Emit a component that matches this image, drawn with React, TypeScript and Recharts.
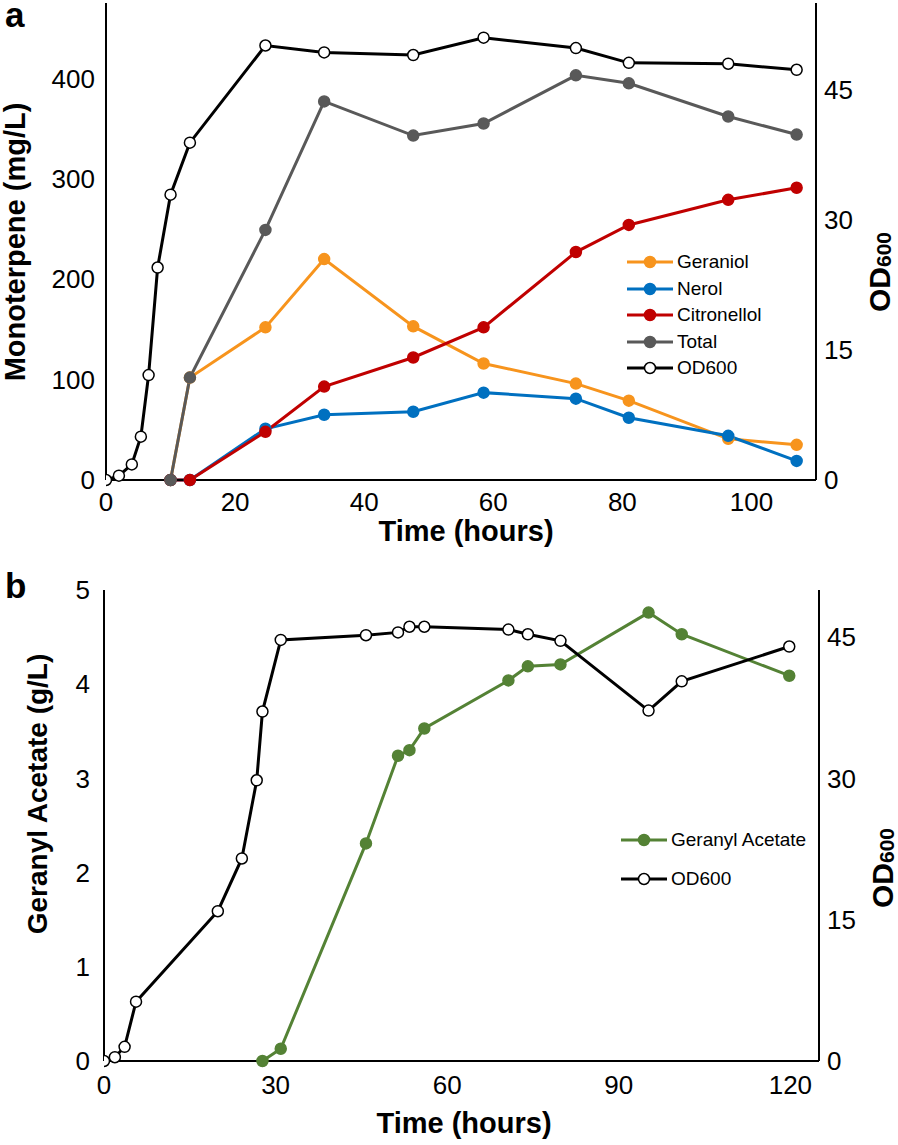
import React from 'react'
import { LineChart, Line, XAxis, YAxis, Legend } from 'recharts'

const FONT = '"Liberation Sans", Arial, sans-serif'

// panel a: monoterpene production
const odTimeA = [0, 2, 4, 5.4, 6.6, 8, 10, 13, 24.7, 33.8, 47.6, 58.5, 72.8, 81, 96.4, 107]
const odA = [0, 0.5, 1.8, 5, 12.1, 24.5, 32.9, 38.9, 50.1, 49.3, 49.0, 51.0, 49.8, 48.1, 48.0, 47.3]
const sampleTimeA = [10, 13, 24.7, 33.8, 47.6, 58.5, 72.8, 81, 96.4, 107]
const geraniol = [0, 102, 152, 220, 153, 116, 96, 79, 41, 35]
const nerol = [0, 0, 51, 65, 68, 87, 81, 62, 44, 19]
const citronellol = [0, 0, 48, 93, 122, 152, 227, 254, 279, 291]
const total = [0, 102, 249, 377, 343, 355, 403, 395, 362, 344]

// panel b: geranyl acetate production
const odTimeB = [0, 1.9, 3.6, 5.6, 19.9, 24.1, 26.7, 27.7, 30.9, 45.8, 51.4, 53.4, 56, 70.7, 74.1, 79.8, 95.2, 101, 119.8]
const odB = [0, 0.4, 1.5, 6.3, 15.9, 21.5, 29.8, 37.1, 44.7, 45.2, 45.5, 46.1, 46.1, 45.8, 45.3, 44.6, 37.2, 40.3, 44.0]
const gaTime = [27.7, 30.9, 45.8, 51.4, 53.4, 56, 70.7, 74.1, 79.8, 95.2, 101, 119.8]
const geranylAcetate = [0, 0.13, 2.31, 3.24, 3.3, 3.53, 4.04, 4.19, 4.21, 4.76, 4.53, 4.09]

const xTicksA = [0, 20, 40, 60, 80, 100]
const yTicksA = [0, 100, 200, 300, 400]
const xTicksB = [0, 30, 60, 90, 120]
const yTicksB = [0, 1, 2, 3, 4, 5]
const odTicks = [0, 15, 30, 45]

const toRows = (xs: number[], ys: number[]) => xs.map((t, i) => ({ t, v: ys[i] }))

const seriesA = [
  { name: 'Geraniol', color: '#F7941D', fill: '#F7941D', rows: toRows(sampleTimeA, geraniol), axis: 'm' },
  { name: 'Nerol', color: '#0070C0', fill: '#0070C0', rows: toRows(sampleTimeA, nerol), axis: 'm' },
  { name: 'Citronellol', color: '#C00000', fill: '#C00000', rows: toRows(sampleTimeA, citronellol), axis: 'm' },
  { name: 'Total', color: '#595959', fill: '#595959', rows: toRows(sampleTimeA, total), axis: 'm' },
  { name: 'OD600', color: '#000000', fill: '#FFFFFF', rows: toRows(odTimeA, odA), axis: 'od' },
]

const seriesB = [
  { name: 'Geranyl Acetate', color: '#548235', fill: '#548235', rows: toRows(gaTime, geranylAcetate), axis: 'm' },
  { name: 'OD600', color: '#000000', fill: '#FFFFFF', rows: toRows(odTimeB, odB), axis: 'od' },
]

const axisLine = { stroke: '#000', strokeWidth: 2 }
const bold = { fontFamily: FONT, fontWeight: 700, fill: '#000' }

// tick text drawn by hand so the size is not overridden
const Tick = (props: any) => {
  const { x, y, payload, textAnchor, verticalAnchor } = props
  const dy = verticalAnchor === 'start' ? '0.71em' : verticalAnchor === 'end' ? '0' : '0.355em'
  return (
    <text x={x} y={y} dy={dy} textAnchor={textAnchor} fontSize={26} fontFamily={FONT} fill="#000">
      {payload.value}
    </text>
  )
}

const LegendBox = ({ items, rowHeight }: { items: typeof seriesA; rowHeight: number }) => (
  <div style={{ fontFamily: FONT, fontSize: 19, color: '#000' }}>
    {items.map((it) => (
      <div key={it.name} style={{ display: 'flex', alignItems: 'center', height: rowHeight, whiteSpace: 'nowrap' }}>
        <svg width={46} height={14}>
          <line x1={0} y1={7} x2={46} y2={7} stroke={it.color} strokeWidth={3} />
          <circle cx={23} cy={7} r={5.5} fill={it.fill} stroke={it.color} strokeWidth={1.5} />
        </svg>
        <span style={{ marginLeft: 4 }}>{it.name}</span>
      </div>
    ))}
  </div>
)

const LeftTitle = ({ text, px, py, size, letter, ly }: any) => (
  <g>
    <text x={px} y={py} transform={`rotate(-90 ${px} ${py})`} textAnchor="middle" fontSize={size} {...bold}>{text}</text>
    <text x={5} y={ly} fontSize={35} {...bold}>{letter}</text>
  </g>
)

const OdTitle = ({ px, py }: any) => (
  <text x={px} y={py} transform={`rotate(-90 ${px} ${py})`} {...bold} fontSize={30}>
    OD<tspan fontSize={21} dy={1}>600</tspan>
  </text>
)

const BottomTitle = ({ px, py }: any) => (
  <text x={px} y={py} textAnchor="middle" fontSize={29} {...bold}>Time (hours)</text>
)

const renderLines = (series: typeof seriesA) =>
  series.map((s) => (
    <Line
      key={s.name}
      data={s.rows}
      dataKey="v"
      name={s.name}
      yAxisId={s.axis}
      type="linear"
      stroke={s.color}
      strokeWidth={3}
      dot={{ r: 5.5, fill: s.fill, stroke: s.color, strokeWidth: 1.5 }}
      activeDot={false}
      isAnimationActive={false}
    />
  ))

export default function App() {
  return (
    <div style={{ position: 'absolute', left: 0, top: 0, width: 898, height: 1145, background: '#fff' }}>
      <div style={{ position: 'absolute', left: 0, top: 0 }}>
        <LineChart width={898} height={560} margin={{ top: 3, right: 0, bottom: 0, left: 0 }}>
          <XAxis
            type="number"
            dataKey="t"
            domain={[0, 110]}
            ticks={xTicksA}
            tickLine={false}
            tickSize={0}
            tickMargin={13}
            axisLine={axisLine}
            tick={<Tick />}
            height={80}
            allowDataOverflow
            label={<BottomTitle px={466} py={541} />}
          />
          <YAxis
            yAxisId="m"
            domain={[0, 475]}
            ticks={yTicksA}
            tickLine={false}
            tickSize={0}
            tickMargin={11}
            axisLine={axisLine}
            tick={<Tick />}
            width={106}
            label={<LeftTitle text="Monoterpene (mg/L)" px={25} py={242} size={29} letter="a" ly={27} />}
          />
          <YAxis
            yAxisId="od"
            orientation="right"
            domain={[0, 55]}
            ticks={odTicks}
            tickLine={false}
            tickSize={0}
            tickMargin={8}
            axisLine={axisLine}
            tick={<Tick />}
            width={82}
            label={<OdTitle px={890} py={312} />}
          />
          <Legend
            layout="vertical"
            align="center"
            verticalAlign="middle"
            wrapperStyle={{ left: 627, top: 249, width: 'auto' }}
            content={() => <LegendBox items={seriesA} rowHeight={26.5} />}
          />
          {renderLines(seriesA)}
        </LineChart>
      </div>
      <div style={{ position: 'absolute', left: 0, top: 560 }}>
        <LineChart width={898} height={585} margin={{ top: 30, right: 0, bottom: 0, left: 0 }}>
          <XAxis
            type="number"
            dataKey="t"
            domain={[0, 125]}
            ticks={xTicksB}
            tickLine={false}
            tickSize={0}
            tickMargin={15}
            axisLine={axisLine}
            tick={<Tick />}
            height={84}
            allowDataOverflow
            label={<BottomTitle px={464} py={573} />}
          />
          <YAxis
            yAxisId="m"
            domain={[0, 5]}
            ticks={yTicksB}
            tickLine={false}
            tickSize={0}
            tickMargin={14}
            axisLine={axisLine}
            tick={<Tick />}
            width={104}
            label={<LeftTitle text="Geranyl Acetate (g/L)" px={47} py={234} size={28} letter="b" ly={38} />}
          />
          <YAxis
            yAxisId="od"
            orientation="right"
            domain={[0, 50]}
            ticks={odTicks}
            tickLine={false}
            tickSize={0}
            tickMargin={8}
            axisLine={axisLine}
            tick={<Tick />}
            width={79}
            label={<OdTitle px={893} py={348} />}
          />
          <Legend
            layout="vertical"
            align="center"
            verticalAlign="middle"
            wrapperStyle={{ left: 621, top: 260, width: 'auto' }}
            content={() => <LegendBox items={seriesB} rowHeight={39} />}
          />
          {renderLines(seriesB)}
        </LineChart>
      </div>
    </div>
  )
}
